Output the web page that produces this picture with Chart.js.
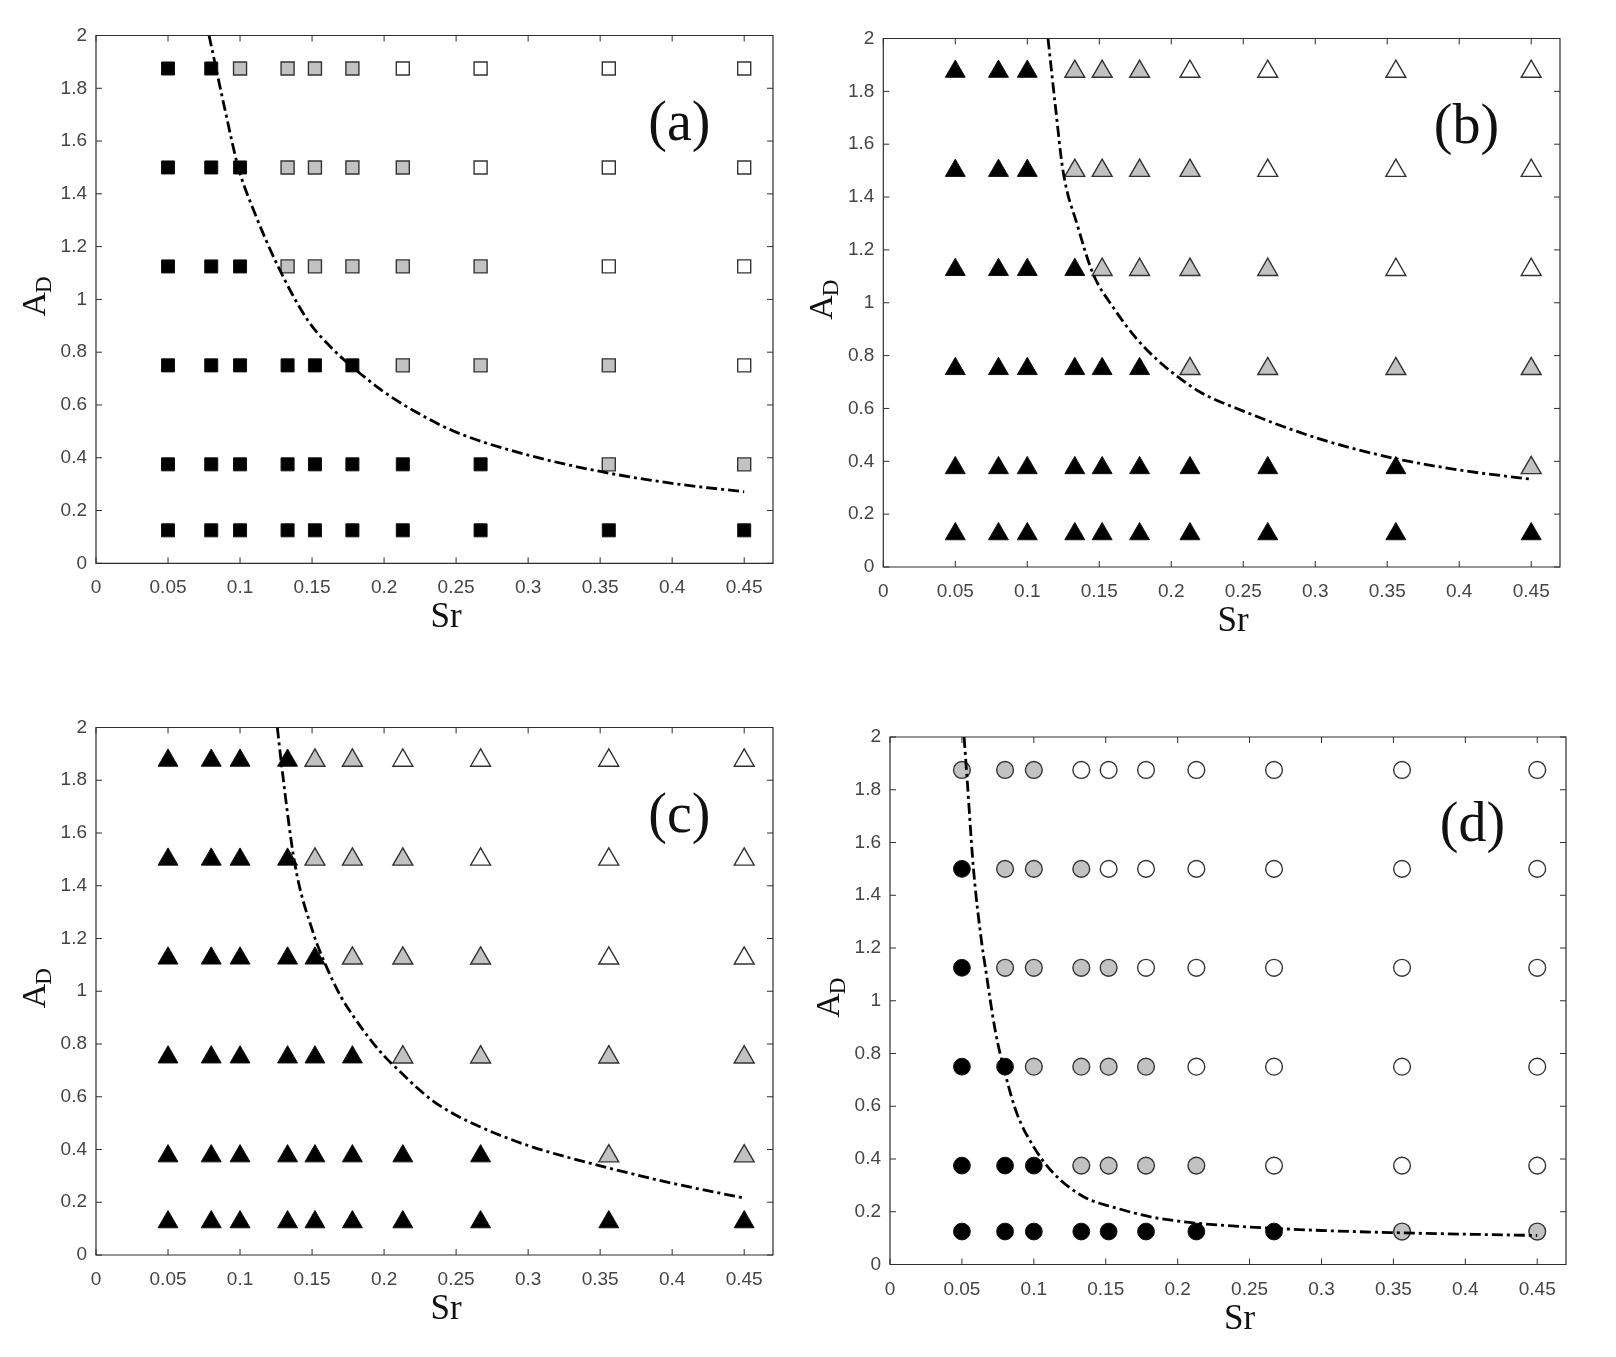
<!DOCTYPE html>
<html>
<head>
<meta charset="utf-8">
<script src="https://cdn.jsdelivr.net/npm/chart.js@4.4.1/dist/chart.umd.min.js"></script>
<style>
html,body{margin:0;padding:0;background:#fff;}
body{width:1616px;height:1357px;position:relative;overflow:hidden;}
canvas{position:absolute;}
</style>
</head>
<body>
<canvas id="ca" width="808" height="678" style="left:0px;top:0px;"></canvas>
<canvas id="cb" width="808" height="678" style="left:808px;top:0px;"></canvas>
<canvas id="cc" width="808" height="679" style="left:0px;top:678px;"></canvas>
<canvas id="cd" width="808" height="679" style="left:808px;top:678px;"></canvas>
<script>
// ---------------- data ----------------
const SR = [0.05, 0.08, 0.1, 0.133, 0.152, 0.178, 0.213, 0.267, 0.356, 0.45];
const AD = [0.125, 0.375, 0.75, 1.125, 1.5, 1.875];

const xTickValues = [0, 0.05, 0.1, 0.15, 0.2, 0.25, 0.3, 0.35, 0.4, 0.45];
const xTickLabels = ['0', '0.05', '0.1', '0.15', '0.2', '0.25', '0.3', '0.35', '0.4', '0.45'];
const yTickValues = [0, 0.2, 0.4, 0.6, 0.8, 1, 1.2, 1.4, 1.6, 1.8, 2];
const yTickLabels = ['0', '0.2', '0.4', '0.6', '0.8', '1', '1.2', '1.4', '1.6', '1.8', '2'];

// regime of each test point: rows follow AD, columns follow SR
// B = black (filled), G = grey, W = white (open)
const statesA = ['BBBBBBBBBB', 'BBBBBBBBGG', 'BBBBBBGGGW', 'BBBGGGGGWW', 'BBBGGGGWWW', 'BBGGGGWWWW'];
const statesB = ['BBBBBBBBBB', 'BBBBBBBBBG', 'BBBBBBGGGG', 'BBBBGGGGWW', 'BBBGGGGWWW', 'BBBGGGWWWW'];
const statesC = ['BBBBBBBBBB', 'BBBBBBBBGG', 'BBBBBBGGGG', 'BBBBBGGGWW', 'BBBBGGGWWW', 'BBBBGGWWWW'];
const statesD = ['BBBBBBBBGG', 'BBBGGGGWWW', 'BBGGGGWWWW', 'BGGGGWWWWW', 'BGGGWWWWWW', 'GGGWWWWWWW'];

// dash-dot boundary curves
const curveA_x = [0.0785, 0.0895, 0.0988, 0.11, 0.1264, 0.147, 0.165, 0.178, 0.1993, 0.22, 0.25, 0.3, 0.351, 0.4, 0.45];
const curveA_y = [2.0, 1.72, 1.5, 1.33, 1.125, 0.921, 0.808, 0.744, 0.652, 0.58, 0.497, 0.41, 0.347, 0.303, 0.271];
const curveB_x = [0.1144, 0.1194, 0.1248, 0.135, 0.1456, 0.16, 0.175, 0.19, 0.2058, 0.22, 0.25, 0.3, 0.35, 0.4, 0.4485];
const curveB_y = [2.0, 1.75, 1.5, 1.29, 1.111, 0.98, 0.87, 0.785, 0.715, 0.662, 0.59, 0.49, 0.417, 0.367, 0.333];
const curveC_x = [0.1259, 0.129, 0.138, 0.151, 0.159, 0.17, 0.1787, 0.19, 0.2, 0.213, 0.2227, 0.235, 0.25, 0.267, 0.3, 0.356, 0.4, 0.449];
const curveC_y = [2.0, 1.85, 1.484, 1.218, 1.105, 0.98, 0.905, 0.82, 0.755, 0.685, 0.635, 0.58, 0.53, 0.485, 0.415, 0.33, 0.272, 0.217];
const curveD_x = [0.0515, 0.0535, 0.058, 0.0638, 0.0662, 0.0731, 0.08, 0.0882, 0.0998, 0.1137, 0.1346, 0.158, 0.181, 0.204, 0.2275, 0.267, 0.3, 0.356, 0.4, 0.45];
const curveD_y = [2.0, 1.85, 1.502, 1.218, 1.13, 0.889, 0.725, 0.573, 0.447, 0.346, 0.257, 0.213, 0.181, 0.162, 0.15, 0.137, 0.129, 0.12, 0.115, 0.11];

const panelLabels = ['(a)', '(b)', '(c)', '(d)'];
const xTitle = 'Sr';
const yTitleMain = 'A';
const yTitleSub = 'D';

// ---------------- styling ----------------
const FILL = { B: '#000000', G: '#c2c2c2', W: '#ffffff' };
const EDGE = { B: '#111111', G: '#333333', W: '#333333' };
const EDGEW = { B: 1, G: 1.4, W: 1.4 };
const SERIF = '"Liberation Serif", "Times New Roman", serif';
const SANS = '"Liberation Sans", Arial, sans-serif';

const panels = [
  { id: 'ca', states: statesA, cx: curveA_x, cy: curveA_y, style: 'rect', r: 9.2,
    area: { left: 96, right: 773, top: 35.5, bottom: 563.3 }, label: panelLabels[0] },
  { id: 'cb', states: statesB, cx: curveB_x, cy: curveB_y, style: 'triangle', r: 11.5,
    area: { left: 75.3, right: 752, top: 38.5, bottom: 567 }, label: panelLabels[1] },
  { id: 'cc', states: statesC, cx: curveC_x, cy: curveC_y, style: 'triangle', r: 11.5,
    area: { left: 96, right: 773, top: 49.5, bottom: 577 }, label: panelLabels[2] },
  { id: 'cd', states: statesD, cx: curveD_x, cy: curveD_y, style: 'circle', r: 8.4,
    area: { left: 82, right: 758, top: 59, bottom: 586.5 }, label: panelLabels[3] }
];

const YW = 50, XH = 50;

const framePlugin = {
  id: 'frame',
  beforeDatasetsDraw(chart) {
    const { ctx, chartArea: a, scales: { x, y } } = chart;
    ctx.save();
    ctx.strokeStyle = '#2e2e2e';
    ctx.lineWidth = 1.2;
    ctx.beginPath();
    ctx.rect(a.left, a.top, a.right - a.left, a.bottom - a.top);
    ctx.stroke();
    ctx.lineWidth = 1;
    const TL = 6;
    ctx.beginPath();
    x.ticks.forEach(t => {
      const px = x.getPixelForValue(t.value);
      ctx.moveTo(px, a.bottom); ctx.lineTo(px, a.bottom - TL);
      ctx.moveTo(px, a.top); ctx.lineTo(px, a.top + TL);
    });
    y.ticks.forEach(t => {
      const py = y.getPixelForValue(t.value);
      ctx.moveTo(a.left, py); ctx.lineTo(a.left + TL, py);
      ctx.moveTo(a.right, py); ctx.lineTo(a.right - TL, py);
    });
    ctx.stroke();
    ctx.restore();
  },
  afterDraw(chart, args, opts) {
    const { ctx, chartArea: a, scales: { x, y } } = chart;
    ctx.save();
    ctx.fillStyle = '#111';
    // x title
    ctx.font = '35px ' + SERIF;
    ctx.textAlign = 'center';
    ctx.textBaseline = 'middle';
    ctx.fillText(xTitle, (a.left + a.right) / 2 + 11.5, a.bottom + 55);
    // panel label
    ctx.font = '56px ' + SERIF;
    ctx.fillText(opts.label, x.getPixelForValue(0.405), y.getPixelForValue(1.66));
    // y title with subscript
    ctx.translate(a.left - 51, (a.top + a.bottom) / 2 - 3);
    ctx.rotate(-Math.PI / 2);
    ctx.textBaseline = 'alphabetic';
    ctx.textAlign = 'left';
    ctx.font = '34px ' + SERIF;
    const wA = ctx.measureText(yTitleMain).width;
    ctx.font = '23px ' + SERIF;
    const wD = ctx.measureText(yTitleSub).width;
    const total = wA + wD - 1;
    ctx.font = '34px ' + SERIF;
    ctx.fillText(yTitleMain, -total / 2, 0);
    ctx.font = '23px ' + SERIF;
    ctx.fillText(yTitleSub, -total / 2 + wA - 1, 6);
    ctx.restore();
  }
};

function buildDatasets(p) {
  const ds = [];
  ds.push({
    type: 'scatter',
    data: p.cx.map((v, i) => ({ x: v, y: p.cy[i] })),
    showLine: true,
    pointRadius: 0,
    borderColor: '#000',
    borderWidth: 2.8,
    borderDash: [11, 4, 3, 4],
    cubicInterpolationMode: 'monotone',
    fill: false,
    order: 0
  });
  ['W', 'G', 'B'].forEach(code => {
    const pts = [];
    p.states.forEach((row, ri) => {
      for (let ci = 0; ci < SR.length; ci++) {
        if (row[ci] === code) pts.push({ x: SR[ci], y: AD[ri] });
      }
    });
    ds.push({
      type: 'scatter',
      data: pts,
      pointStyle: p.style,
      pointRadius: p.r,
      pointHoverRadius: p.r,
      backgroundColor: FILL[code],
      borderColor: EDGE[code],
      borderWidth: EDGEW[code],
      order: 1
    });
  });
  return ds;
}

panels.forEach(p => {
  const cv = document.getElementById(p.id);
  const W = cv.width, H = cv.height;
  new Chart(cv.getContext('2d'), {
    type: 'scatter',
    data: { datasets: buildDatasets(p) },
    plugins: [framePlugin],
    options: {
      responsive: false,
      animation: false,
      devicePixelRatio: 1,
      events: [],
      layout: {
        padding: {
          left: p.area.left - YW,
          right: W - p.area.right,
          top: p.area.top,
          bottom: H - p.area.bottom - XH
        }
      },
      plugins: {
        legend: { display: false },
        tooltip: { enabled: false },
        frame: { label: p.label }
      },
      scales: {
        x: {
          type: 'linear',
          position: 'bottom',
          min: 0,
          max: 0.47,
          grid: { display: false, drawTicks: false },
          border: { display: false },
          afterBuildTicks: s => { s.ticks = xTickValues.map(v => ({ value: v })); },
          afterFit: s => { s.height = XH; },
          ticks: {
            autoSkip: false,
            maxRotation: 0,
            padding: 13.5,
            color: '#454545',
            font: { family: SANS, size: 19 },
            callback: (v, i) => xTickLabels[i]
          }
        },
        y: {
          type: 'linear',
          position: 'left',
          min: 0,
          max: 2,
          grid: { display: false, drawTicks: false },
          border: { display: false },
          afterBuildTicks: s => { s.ticks = yTickValues.map(v => ({ value: v })); },
          afterFit: s => { s.width = YW; },
          ticks: {
            autoSkip: false,
            padding: 9,
            color: '#454545',
            font: { family: SANS, size: 19 },
            callback: (v, i) => yTickLabels[i]
          }
        }
      }
    }
  });
});
</script>
</body>
</html>
